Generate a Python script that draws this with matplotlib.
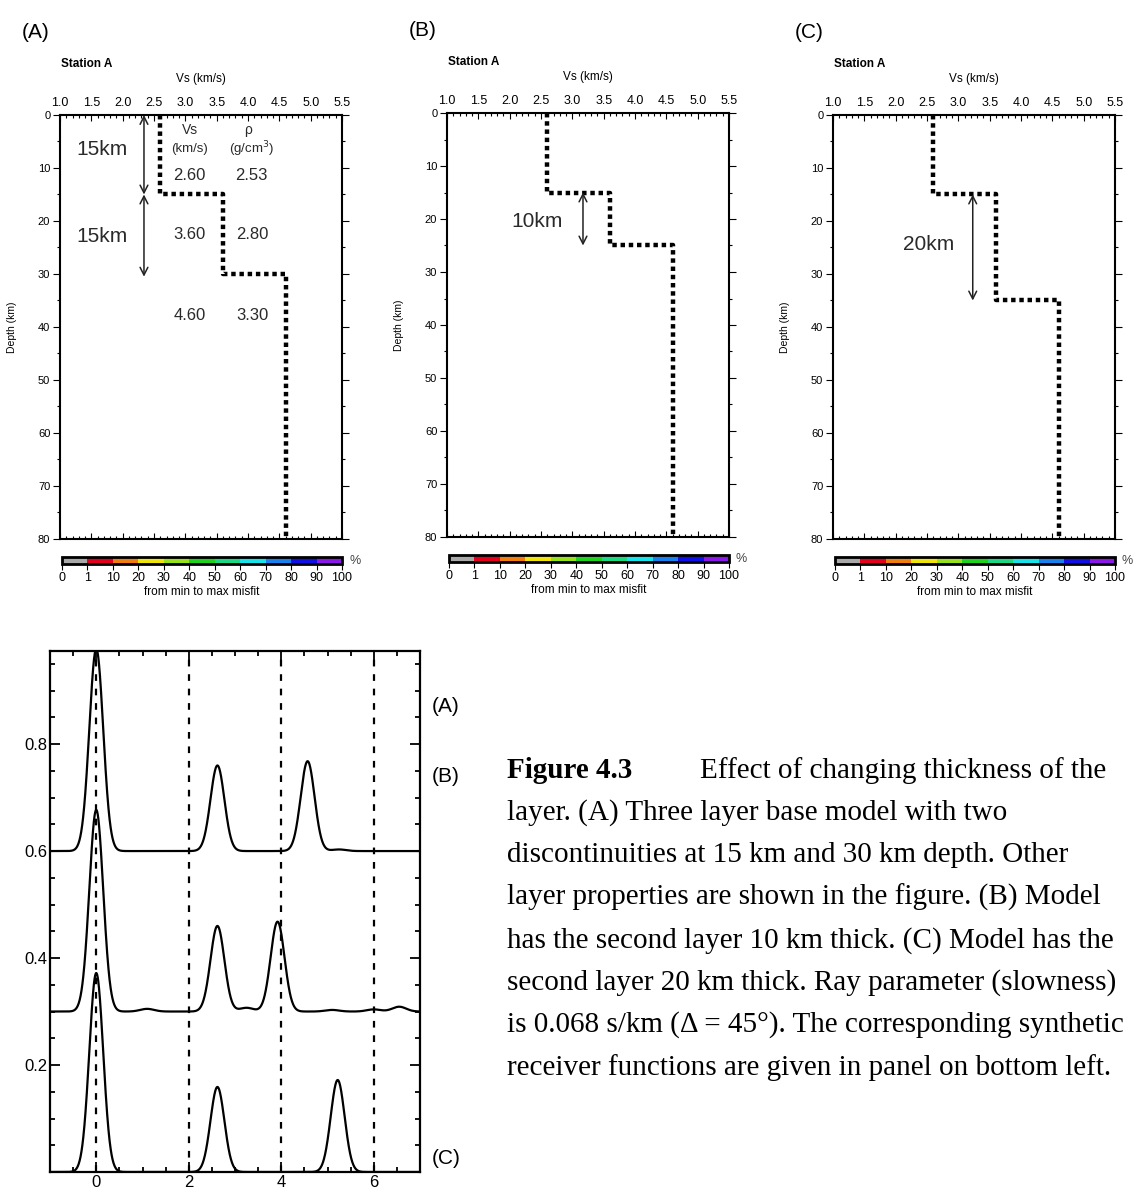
import numpy as np
import matplotlib.pyplot as plt
from matplotlib.colors import ListedColormap, BoundaryNorm
from matplotlib.cm import ScalarMappable
from matplotlib.ticker import MultipleLocator, FixedLocator

plt.rcParams['font.family'] = ['Liberation Sans', 'DejaVu Sans']

W, H = 1133, 1189

# layered Vs models (km/s) and the depth of each layer top (km)
vs_layers = [2.6, 3.6, 4.6]
rho_layers = [2.53, 2.80, 3.30]
tops_A = [0, 15, 30]
tops_B = [0, 15, 25]
tops_C = [0, 15, 35]
max_depth = 80

vs_ticks = [1.0, 1.5, 2.0, 2.5, 3.0, 3.5, 4.0, 4.5, 5.0, 5.5]
depth_ticks = [0, 10, 20, 30, 40, 50, 60, 70, 80]

misfit_bounds = [0, 1, 10, 20, 30, 40, 50, 60, 70, 80, 90, 100]
misfit_colors = ['#a9a9a9', '#e4001c', '#ef7d10', '#efe40c', '#96e01c', '#1ed21e',
                 '#1cd880', '#18e2ea', '#1a80ee', '#1010e6', '#8a18e6']

# synthetic receiver functions: baseline offset, pulse delay (s), pulse amplitude
rf_labels = ['(A)', '(B)', '(C)']
rf_baselines = [0.6, 0.3, 0.0]
rf_A_times = [0.0, 2.62, 4.57, 5.25]
rf_A_amps = [0.378, 0.160, 0.168, 0.003]
rf_B_times = [0.0, 1.1, 2.62, 3.25, 3.92, 5.1, 6.0, 6.55]
rf_B_amps = [0.377, 0.005, 0.160, 0.007, 0.168, 0.003, 0.004, 0.009]
rf_C_times = [0.0, 2.62, 5.22]
rf_C_amps = [0.372, 0.159, 0.172]
rf_pulse_width = 0.15
rf_marks = [0, 2, 4, 6]

fig = plt.figure(figsize=(W / 100, H / 100), dpi=100)


def px_rect(left, top, right, bottom):
    return [left / W, 1 - bottom / H, (right - left) / W, (bottom - top) / H]


def draw_model(left, top, tops, panel, arrows, notes):
    ax = fig.add_axes(px_rect(left, top, left + 282, top + 424))
    bottoms = tops[1:] + [max_depth]
    xs = np.repeat(vs_layers, 2)
    ys = np.column_stack([tops, bottoms]).ravel()
    ax.plot(xs, ys, color='black', lw=3.2, linestyle=(0, (1, 0.85)),
            dash_capstyle='butt', solid_capstyle='butt')
    ax.set_xlim(1.0, 5.5)
    ax.set_ylim(max_depth, 0)

    ax.xaxis.set_major_locator(FixedLocator(vs_ticks))
    ax.xaxis.set_minor_locator(MultipleLocator(0.1))
    ax.set_xticklabels(['%.1f' % v for v in vs_ticks])
    ax.tick_params(axis='x', which='both', top=True, bottom=True, labeltop=True,
                   labelbottom=False, direction='in', labelsize=9, pad=4, width=0.8)
    ax.tick_params(axis='x', which='major', length=4)
    ax.tick_params(axis='x', which='minor', length=2.5)

    ax.yaxis.set_major_locator(FixedLocator(depth_ticks))
    ax.yaxis.set_minor_locator(MultipleLocator(5))
    ax.tick_params(axis='y', which='both', left=True, right=True, direction='out',
                   labelsize=8, pad=2, width=0.8)
    ax.tick_params(axis='y', which='major', length=5)
    ax.tick_params(axis='y', which='minor', length=2.5)
    ax.set_ylabel('Depth (km)', fontsize=7.5)
    ax.yaxis.set_label_coords(-0.152, 0.5)
    for sp in ax.spines.values():
        sp.set_linewidth(1.5)

    ax.text(0.5, 1.085, 'Vs (km/s)', transform=ax.transAxes, ha='center',
            va='center', fontsize=8.5)
    ax.text(0.005, 1.12, 'Station A', transform=ax.transAxes, ha='left',
            va='center', fontsize=8.5, fontweight='bold')
    fig.text((left - 38) / W, 1 - (top - 83) / H, panel, fontsize=15,
             ha='left', va='center')

    for (x, d0, d1) in arrows:
        ax.annotate('', xy=(x, d0), xytext=(x, d1),
                    arrowprops=dict(arrowstyle='<->,head_length=0.55,head_width=0.28',
                                    lw=1.1, color='#222222', shrinkA=0, shrinkB=0))
    for (x, d, s, fs) in notes:
        ax.text(x, d, s, ha='center', va='center', fontsize=fs, color='#2a2a2a')

    # misfit colour scale under the panel
    cax = fig.add_axes(px_rect(left + 2, top + 442, left + 282, top + 449))
    cmap = ListedColormap(misfit_colors)
    norm = BoundaryNorm(misfit_bounds, cmap.N)
    cb = fig.colorbar(ScalarMappable(norm=norm, cmap=cmap), cax=cax,
                      orientation='horizontal', spacing='uniform', ticks=misfit_bounds)
    cb.outline.set_linewidth(2.0)
    cb.set_ticklabels([str(b) for b in misfit_bounds])
    cax.tick_params(labelsize=9, length=4, width=0.8, pad=2)
    cb.set_label('from min to max misfit', fontsize=8.5, labelpad=1)
    cax.text(1.025, 0.5, '%', transform=cax.transAxes, ha='left', va='center',
             fontsize=9, color='#444444')
    return ax


draw_model(60, 115, tops_A, '(A)',
           arrows=[(2.34, 0, 15), (2.34, 15, 30.5)],
           notes=[(1.67, 6.6, '15km', 15), (1.67, 23.0, '15km', 15),
                  (3.07, 2.8, 'Vs', 10), (4.0, 2.8, 'ρ', 10),
                  (3.07, 6.4, '(km/s)', 9.5), (4.05, 6.4, '(g/cm$^3$)', 9.5),
                  (3.07, 11.5, '%.2f' % vs_layers[0], 12), (4.05, 11.5, '%.2f' % rho_layers[0], 12),
                  (3.07, 22.6, '%.2f' % vs_layers[1], 12), (4.07, 22.6, '%.2f' % rho_layers[1], 12),
                  (3.07, 37.8, '%.2f' % vs_layers[2], 12), (4.07, 37.8, '%.2f' % rho_layers[2], 12)])
draw_model(447, 113, tops_B, '(B)',
           arrows=[(3.17, 15, 25)],
           notes=[(2.44, 20.5, '10km', 15)])
draw_model(833, 115, tops_C, '(C)',
           arrows=[(3.23, 15, 35)],
           notes=[(2.53, 24.5, '20km', 15)])

# receiver function panel
ax = fig.add_axes(px_rect(50, 651, 420, 1172))
t = np.linspace(-1, 7, 2001)
for base, times, amps in zip(rf_baselines, [rf_A_times, rf_B_times, rf_C_times],
                             [rf_A_amps, rf_B_amps, rf_C_amps]):
    trace = np.full_like(t, base)
    for t0, a in zip(times, amps):
        trace += a * np.exp(-0.5 * ((t - t0) / rf_pulse_width) ** 2)
    ax.plot(t, trace, color='black', lw=1.6)
for xm in rf_marks:
    ax.axvline(xm, color='black', lw=1.6, linestyle=(0, (3, 3.5)))
ax.set_xlim(-1, 7)
ax.set_ylim(0, 0.974)
ax.xaxis.set_major_locator(FixedLocator(rf_marks))
ax.xaxis.set_minor_locator(MultipleLocator(0.5))
ax.yaxis.set_major_locator(FixedLocator([0.2, 0.4, 0.6, 0.8]))
ax.yaxis.set_minor_locator(MultipleLocator(0.05))
ax.tick_params(which='both', direction='in', top=True, right=True, width=1.3)
ax.tick_params(which='major', length=7, pad=2)
ax.tick_params(which='minor', length=3.5)
for lab in ax.get_xticklabels() + ax.get_yticklabels():
    lab.set_fontsize(12)
for sp in ax.spines.values():
    sp.set_linewidth(1.6)

for lab, ypx in zip(rf_labels, [707, 776, 1158]):
    fig.text(432 / W, 1 - ypx / H, lab, fontsize=15, ha='left', va='center')

# caption
serif = ['Liberation Serif', 'DejaVu Serif']
cap_size = 21
cap_x = 507 / W
cap_lines = [
    'layer. (A) Three layer base model with two',
    'discontinuities at 15 km and 30 km depth. Other',
    'layer properties are shown in the figure. (B) Model',
    'has the second layer 10 km thick. (C) Model has the',
    'second layer 20 km thick. Ray parameter (slowness)',
    'is 0.068 s/km (\u0394 = 45\u00b0). The corresponding synthetic',
    'receiver functions are given in panel on bottom left.',
]
fig.text(cap_x, 1 - 771 / H, 'Figure 4.3', family=serif, fontweight='bold',
         fontsize=cap_size, ha='left', va='center')
fig.text(700 / W, 1 - 771 / H, 'Effect of changing thickness of the', family=serif,
         fontsize=cap_size, ha='left', va='center')
for i, line in enumerate(cap_lines):
    fig.text(cap_x, 1 - (813 + 42.4 * i) / H, line, family=serif, fontsize=cap_size,
             ha='left', va='center')

fig.savefig('out.png', dpi=100)
